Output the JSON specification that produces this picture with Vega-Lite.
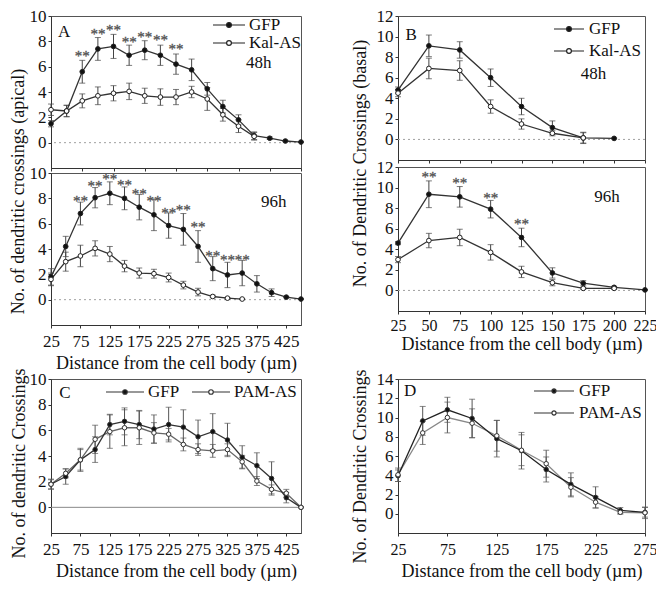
{
  "$schema": "https://vega.github.io/schema/vega-lite/v6.json",
  "padding": {"left": 8, "top": 6, "right": 0, "bottom": 0},
  "background": "white",
  "config": {
    "font": "Liberation Serif",
    "view": {"stroke": "#555", "strokeWidth": 1},
    "axis": {"grid": false, "labelFont": "Liberation Serif", "titleFont": "Liberation Serif", "labelFontSize": 17, "titleFontSize": 18, "titleFontWeight": "normal", "labelColor": "#111", "titleColor": "#111", "domainColor": "#333", "tickColor": "#333", "tickSize": 3, "tickCount": 30, "format": "d", "labelFlush": false, "labelOverlap": false},
    "axisX": {"labelPadding": 4, "titlePadding": 4},
    "axisY": {"labelPadding": 2},
    "legend": {"labelFont": "Liberation Serif", "labelFontSize": 16, "labelColor": "#111"},
    "text": {"font": "Liberation Serif"}
  },
  "datasets": {
    "pts": [
      {"p":"A48","g":"GFP","d":25,"v":1.5,"e":0.25},{"p":"A48","g":"GFP","d":50,"v":2.5,"e":0.45},{"p":"A48","g":"GFP","d":75,"v":5.6,"e":0.9},{"p":"A48","g":"GFP","d":100,"v":7.4,"e":0.9},{"p":"A48","g":"GFP","d":125,"v":7.6,"e":0.95},{"p":"A48","g":"GFP","d":150,"v":6.9,"e":0.8},{"p":"A48","g":"GFP","d":175,"v":7.3,"e":0.75},{"p":"A48","g":"GFP","d":200,"v":6.9,"e":0.8},{"p":"A48","g":"GFP","d":225,"v":6.2,"e":0.8},{"p":"A48","g":"GFP","d":250,"v":5.75,"e":0.85},{"p":"A48","g":"GFP","d":275,"v":4.25,"e":0.5},{"p":"A48","g":"GFP","d":300,"v":2.85,"e":0.5},{"p":"A48","g":"GFP","d":325,"v":1.8,"e":0.4},{"p":"A48","g":"GFP","d":350,"v":0.55,"e":0.3},{"p":"A48","g":"GFP","d":375,"v":0.35,"e":0.1},{"p":"A48","g":"GFP","d":400,"v":0.13,"e":0.05},{"p":"A48","g":"GFP","d":425,"v":0.05,"e":0.03},
      {"p":"A48","g":"Kal-AS","d":25,"v":2.6,"e":0.45},{"p":"A48","g":"Kal-AS","d":50,"v":2.5,"e":0.45},{"p":"A48","g":"Kal-AS","d":75,"v":3.3,"e":0.55},{"p":"A48","g":"Kal-AS","d":100,"v":3.7,"e":0.7},{"p":"A48","g":"Kal-AS","d":125,"v":3.9,"e":0.6},{"p":"A48","g":"Kal-AS","d":150,"v":4.05,"e":0.65},{"p":"A48","g":"Kal-AS","d":175,"v":3.7,"e":0.6},{"p":"A48","g":"Kal-AS","d":200,"v":3.6,"e":0.65},{"p":"A48","g":"Kal-AS","d":225,"v":3.6,"e":0.6},{"p":"A48","g":"Kal-AS","d":250,"v":4.0,"e":0.45},{"p":"A48","g":"Kal-AS","d":275,"v":3.45,"e":0.9},{"p":"A48","g":"Kal-AS","d":300,"v":2.2,"e":0.5},{"p":"A48","g":"Kal-AS","d":325,"v":1.3,"e":0.5},{"p":"A48","g":"Kal-AS","d":350,"v":0.5,"e":0.3},
      {"p":"A96","g":"GFP","d":25,"v":1.8,"e":0.65},{"p":"A96","g":"GFP","d":50,"v":4.2,"e":0.8},{"p":"A96","g":"GFP","d":75,"v":6.8,"e":0.9},{"p":"A96","g":"GFP","d":100,"v":8.05,"e":0.8},{"p":"A96","g":"GFP","d":125,"v":8.4,"e":0.9},{"p":"A96","g":"GFP","d":150,"v":8.0,"e":0.9},{"p":"A96","g":"GFP","d":175,"v":7.3,"e":1.0},{"p":"A96","g":"GFP","d":200,"v":6.7,"e":1.25},{"p":"A96","g":"GFP","d":225,"v":5.85,"e":1.0},{"p":"A96","g":"GFP","d":250,"v":5.55,"e":1.25},{"p":"A96","g":"GFP","d":275,"v":4.2,"e":1.25},{"p":"A96","g":"GFP","d":300,"v":2.45,"e":0.95},{"p":"A96","g":"GFP","d":325,"v":1.95,"e":1.0},{"p":"A96","g":"GFP","d":350,"v":2.1,"e":1.0},{"p":"A96","g":"GFP","d":375,"v":1.25,"e":0.65},{"p":"A96","g":"GFP","d":400,"v":0.55,"e":0.3},{"p":"A96","g":"GFP","d":425,"v":0.2,"e":0.05},{"p":"A96","g":"GFP","d":450,"v":0.05,"e":0.03},
      {"p":"A96","g":"Kal-AS","d":25,"v":1.6,"e":0.5},{"p":"A96","g":"Kal-AS","d":50,"v":3.0,"e":0.75},{"p":"A96","g":"Kal-AS","d":75,"v":3.45,"e":0.85},{"p":"A96","g":"Kal-AS","d":100,"v":4.05,"e":0.6},{"p":"A96","g":"Kal-AS","d":125,"v":3.6,"e":0.6},{"p":"A96","g":"Kal-AS","d":150,"v":2.65,"e":0.45},{"p":"A96","g":"Kal-AS","d":175,"v":2.1,"e":0.4},{"p":"A96","g":"Kal-AS","d":200,"v":2.05,"e":0.35},{"p":"A96","g":"Kal-AS","d":225,"v":1.75,"e":0.35},{"p":"A96","g":"Kal-AS","d":250,"v":1.15,"e":0.3},{"p":"A96","g":"Kal-AS","d":275,"v":0.6,"e":0.3},{"p":"A96","g":"Kal-AS","d":300,"v":0.25,"e":0.1},{"p":"A96","g":"Kal-AS","d":325,"v":0.12,"e":0.05},{"p":"A96","g":"Kal-AS","d":350,"v":0.05,"e":0.03},
      {"p":"B48","g":"GFP","d":25,"v":4.8,"e":0.3},{"p":"B48","g":"GFP","d":50,"v":9.1,"e":1.05},{"p":"B48","g":"GFP","d":75,"v":8.7,"e":0.8},{"p":"B48","g":"GFP","d":100,"v":6.0,"e":0.85},{"p":"B48","g":"GFP","d":125,"v":3.2,"e":0.8},{"p":"B48","g":"GFP","d":150,"v":1.15,"e":0.65},{"p":"B48","g":"GFP","d":175,"v":0.15,"e":0.55},{"p":"B48","g":"GFP","d":200,"v":0.1,"e":0.05},
      {"p":"B48","g":"Kal-AS","d":25,"v":4.5,"e":0.35},{"p":"B48","g":"Kal-AS","d":50,"v":6.9,"e":1.0},{"p":"B48","g":"Kal-AS","d":75,"v":6.7,"e":0.95},{"p":"B48","g":"Kal-AS","d":100,"v":3.2,"e":0.65},{"p":"B48","g":"Kal-AS","d":125,"v":1.5,"e":0.5},{"p":"B48","g":"Kal-AS","d":150,"v":0.6,"e":0.25},{"p":"B48","g":"Kal-AS","d":175,"v":0.15,"e":0.5},
      {"p":"B96","g":"GFP","d":25,"v":4.6,"e":0.15},{"p":"B96","g":"GFP","d":50,"v":9.35,"e":1.3},{"p":"B96","g":"GFP","d":75,"v":9.1,"e":1.0},{"p":"B96","g":"GFP","d":100,"v":7.9,"e":0.85},{"p":"B96","g":"GFP","d":125,"v":5.15,"e":0.9},{"p":"B96","g":"GFP","d":150,"v":1.7,"e":0.5},{"p":"B96","g":"GFP","d":175,"v":0.7,"e":0.25},{"p":"B96","g":"GFP","d":200,"v":0.3,"e":0.1},{"p":"B96","g":"GFP","d":225,"v":0.05,"e":0.03},
      {"p":"B96","g":"Kal-AS","d":25,"v":3.0,"e":0.3},{"p":"B96","g":"Kal-AS","d":50,"v":4.85,"e":0.7},{"p":"B96","g":"Kal-AS","d":75,"v":5.15,"e":0.8},{"p":"B96","g":"Kal-AS","d":100,"v":3.7,"e":0.75},{"p":"B96","g":"Kal-AS","d":125,"v":1.8,"e":0.55},{"p":"B96","g":"Kal-AS","d":150,"v":0.75,"e":0.3},{"p":"B96","g":"Kal-AS","d":175,"v":0.2,"e":0.1},{"p":"B96","g":"Kal-AS","d":200,"v":0.2,"e":0.1},
      {"p":"C","g":"GFP","d":25,"v":1.8,"e":0.4},{"p":"C","g":"GFP","d":50,"v":2.4,"e":0.6},{"p":"C","g":"GFP","d":75,"v":3.7,"e":0.9},{"p":"C","g":"GFP","d":100,"v":4.5,"e":1.0},{"p":"C","g":"GFP","d":125,"v":6.45,"e":0.8},{"p":"C","g":"GFP","d":150,"v":6.7,"e":1.05},{"p":"C","g":"GFP","d":175,"v":6.45,"e":1.1},{"p":"C","g":"GFP","d":200,"v":6.1,"e":1.1},{"p":"C","g":"GFP","d":225,"v":6.45,"e":1.35},{"p":"C","g":"GFP","d":250,"v":6.25,"e":1.35},{"p":"C","g":"GFP","d":275,"v":5.5,"e":1.3},{"p":"C","g":"GFP","d":300,"v":5.9,"e":1.4},{"p":"C","g":"GFP","d":325,"v":5.25,"e":1.3},{"p":"C","g":"GFP","d":350,"v":3.9,"e":0.9},{"p":"C","g":"GFP","d":375,"v":3.25,"e":1.0},{"p":"C","g":"GFP","d":400,"v":2.25,"e":1.3},{"p":"C","g":"GFP","d":425,"v":0.75,"e":0.4},{"p":"C","g":"GFP","d":450,"v":0,"e":0},
      {"p":"C","g":"PAM-AS","d":25,"v":1.8,"e":0.35},{"p":"C","g":"PAM-AS","d":50,"v":2.65,"e":0.35},{"p":"C","g":"PAM-AS","d":75,"v":3.7,"e":0.8},{"p":"C","g":"PAM-AS","d":100,"v":5.3,"e":1.1},{"p":"C","g":"PAM-AS","d":125,"v":5.9,"e":1.3},{"p":"C","g":"PAM-AS","d":150,"v":6.2,"e":1.4},{"p":"C","g":"PAM-AS","d":175,"v":6.2,"e":1.3},{"p":"C","g":"PAM-AS","d":200,"v":5.8,"e":0.8},{"p":"C","g":"PAM-AS","d":225,"v":5.7,"e":0.45},{"p":"C","g":"PAM-AS","d":250,"v":4.9,"e":0.5},{"p":"C","g":"PAM-AS","d":275,"v":4.5,"e":0.45},{"p":"C","g":"PAM-AS","d":300,"v":4.4,"e":0.5},{"p":"C","g":"PAM-AS","d":325,"v":4.5,"e":0.45},{"p":"C","g":"PAM-AS","d":350,"v":3.55,"e":0.5},{"p":"C","g":"PAM-AS","d":375,"v":2.05,"e":0.35},{"p":"C","g":"PAM-AS","d":400,"v":1.4,"e":0.35},{"p":"C","g":"PAM-AS","d":425,"v":1.1,"e":0.3},{"p":"C","g":"PAM-AS","d":450,"v":0,"e":0},
      {"p":"D","g":"GFP","d":25,"v":3.95,"e":0.6},{"p":"D","g":"GFP","d":50,"v":9.65,"e":1.5},{"p":"D","g":"GFP","d":75,"v":10.8,"e":1.3},{"p":"D","g":"GFP","d":100,"v":9.9,"e":2.0},{"p":"D","g":"GFP","d":125,"v":7.8,"e":1.9},{"p":"D","g":"GFP","d":150,"v":6.55,"e":1.9},{"p":"D","g":"GFP","d":175,"v":4.6,"e":1.3},{"p":"D","g":"GFP","d":200,"v":3.05,"e":1.2},{"p":"D","g":"GFP","d":225,"v":1.7,"e":1.1},{"p":"D","g":"GFP","d":250,"v":0.35,"e":0.3},{"p":"D","g":"GFP","d":275,"v":0.15,"e":0.5},
      {"p":"D","g":"PAM-AS","d":25,"v":4.05,"e":0.7},{"p":"D","g":"PAM-AS","d":50,"v":8.4,"e":1.2},{"p":"D","g":"PAM-AS","d":75,"v":10.0,"e":1.6},{"p":"D","g":"PAM-AS","d":100,"v":9.4,"e":1.5},{"p":"D","g":"PAM-AS","d":125,"v":8.1,"e":1.6},{"p":"D","g":"PAM-AS","d":150,"v":6.6,"e":1.6},{"p":"D","g":"PAM-AS","d":175,"v":5.2,"e":1.4},{"p":"D","g":"PAM-AS","d":200,"v":2.75,"e":1.0},{"p":"D","g":"PAM-AS","d":225,"v":1.2,"e":0.6},{"p":"D","g":"PAM-AS","d":250,"v":0.15,"e":0.2},{"p":"D","g":"PAM-AS","d":275,"v":0.1,"e":0.6}
    ],
    "stars": [
      {"p":"A48","d":75,"v":7.1},{"p":"A48","d":100,"v":8.8},{"p":"A48","d":125,"v":9.1},{"p":"A48","d":150,"v":8.2},{"p":"A48","d":175,"v":8.6},{"p":"A48","d":200,"v":8.35},{"p":"A48","d":225,"v":7.6},
      {"p":"A96","d":75,"v":8.05},{"p":"A96","d":100,"v":9.2},{"p":"A96","d":125,"v":9.75},{"p":"A96","d":150,"v":9.3},{"p":"A96","d":175,"v":8.6},{"p":"A96","d":200,"v":8.0},{"p":"A96","d":225,"v":7.1},{"p":"A96","d":250,"v":7.3},{"p":"A96","d":275,"v":5.95},{"p":"A96","d":300,"v":3.65},{"p":"A96","d":325,"v":3.35},{"p":"A96","d":350,"v":3.4},
      {"p":"B96","d":50,"v":11.35},{"p":"B96","d":75,"v":10.7},{"p":"B96","d":100,"v":9.25},{"p":"B96","d":125,"v":6.75}
    ],
    "labels": [
      {"p":"A48","d":36,"v":8.7,"txt":"A"},{"p":"A48","d":337,"v":6.3,"txt":"48h"},
      {"p":"A96","d":382,"v":7.7,"txt":"96h"},
      {"p":"B48","d":31,"v":10.2,"txt":"B"},{"p":"B48","d":173,"v":6.4,"txt":"48h"},
      {"p":"B96","d":184,"v":9.1,"txt":"96h"},
      {"p":"C","d":39,"v":8.9,"txt":"C"},
      {"p":"D","d":31,"v":12.8,"txt":"D"}
    ]
  },
  "spacing": -8,
  "resolve": {"scale": {"fill": "independent", "color": "independent"}, "legend": {"fill": "independent"}},
  "vconcat": [
    {
      "spacing": 44,
      "resolve": {"scale": {"fill": "independent", "color": "independent"}, "legend": {"fill": "independent"}},
      "hconcat": [
        {
          "spacing": 5,
          "bounds": "flush",
          "resolve": {"scale": {"fill": "independent", "color": "independent"}, "legend": {"fill": "independent"}},
          "vconcat": [
            {
              "width": 250, "height": 152,
              "layer": [
                {"data": {"values": [{}]}, "mark": {"type": "rule", "color": "#a0a0a0", "strokeDash": [2, 3]}, "encoding": {"y": {"datum": 0, "type": "quantitative"}}},
                {"data": {"name": "pts"}, "transform": [{"filter": "datum.p === 'A48'"}],
                 "mark": {"type": "errorbar", "ticks": {"size": 6}, "color": "#444"},
                 "encoding": {
                   "x": {"field": "d", "type": "quantitative", "scale": {"domain": [25, 425], "nice": false, "zero": false}, "axis": {"values": [25, 75, 125, 175, 225, 275, 325, 375, 425], "tickCount": 30, "format": "d", "labels": false, "title": null}},
                   "y": {"field": "v", "type": "quantitative", "scale": {"domain": [-2, 10], "nice": false, "zero": false}, "axis": {"values": [0, 2, 4, 6, 8, 10], "tickCount": 30, "format": "d", "labelOverlap": false, "title": "No. of dendritic crossings (apical)", "titleX": -28, "titleY": 175, "titleAlign": "center", "titleBaseline": "alphabetic", "titleAngle": -90}},
                   "yError": {"field": "e"}
                 }},
                {"data": {"name": "pts"}, "transform": [{"filter": "datum.p === 'A48'"}], "mark": {"type": "line", "strokeWidth": 1.3, "color": "#333"}, "encoding": {"x": {"field": "d", "type": "quantitative"}, "y": {"field": "v", "type": "quantitative"}, "detail": {"field": "g"}}},
                {"data": {"name": "pts"}, "transform": [{"filter": "datum.p === 'A48'"}], "mark": {"type": "point", "size": 22, "stroke": "#222", "strokeWidth": 1, "opacity": 1},
                 "encoding": {"x": {"field": "d", "type": "quantitative"}, "y": {"field": "v", "type": "quantitative"},
                   "fill": {"field": "g", "type": "nominal", "scale": {"domain": ["GFP", "Kal-AS"], "range": ["#111", "#ffffff"]},
                     "legend": {"title": null, "orient": "top-right", "offset": 0, "padding": 0, "symbolType": "M-2,0L-0.3,0M0.3,0L2,0M-0.3,0A0.3,0.3,0,1,0,0.3,0A0.3,0.3,0,1,0,-0.3,0Z", "symbolSize": 256, "symbolStrokeColor": "#222", "symbolStrokeWidth": 1.2, "labelFontSize": 17, "labelOffset": 11, "rowPadding": 1}}}},
                {"data": {"name": "stars"}, "transform": [{"filter": "datum.p === 'A48'"}], "mark": {"type": "text", "text": "**", "fontSize": 15, "color": "#555", "fill": "#555", "stroke": "#555", "strokeWidth": 0.3, "dy": 3}, "encoding": {"x": {"field": "d", "type": "quantitative"}, "y": {"field": "v", "type": "quantitative"}}},
                {"data": {"name": "labels"}, "transform": [{"filter": "datum.p === 'A48'"}], "mark": {"type": "text", "align": "left", "baseline": "middle", "fontSize": 17, "color": "#111", "fill": "#111"}, "encoding": {"x": {"field": "d", "type": "quantitative"}, "y": {"field": "v", "type": "quantitative"}, "text": {"field": "txt"}}}
              ]
            },
            {
              "width": 250, "height": 152,
              "layer": [
                {"data": {"values": [{}]}, "mark": {"type": "rule", "color": "#a0a0a0", "strokeDash": [2, 3]}, "encoding": {"y": {"datum": 0, "type": "quantitative"}}},
                {"data": {"name": "pts"}, "transform": [{"filter": "datum.p === 'A96'"}],
                 "mark": {"type": "errorbar", "ticks": {"size": 6}, "color": "#444"},
                 "encoding": {
                   "x": {"field": "d", "type": "quantitative", "scale": {"domain": [25, 450], "nice": false, "zero": false}, "axis": {"values": [25, 75, 125, 175, 225, 275, 325, 375, 425], "tickCount": 30, "format": "d", "labelOverlap": false, "title": "Distance from the cell body (µm)", "labelPadding": 5, "titlePadding": 5}},
                   "y": {"field": "v", "type": "quantitative", "scale": {"domain": [-2, 10], "nice": false, "zero": false}, "axis": {"values": [0, 2, 4, 6, 8, 10], "tickCount": 30, "format": "d", "labelOverlap": false, "title": null}},
                   "yError": {"field": "e"}
                 }},
                {"data": {"name": "pts"}, "transform": [{"filter": "datum.p === 'A96'"}], "mark": {"type": "line", "strokeWidth": 1.3, "color": "#333"}, "encoding": {"x": {"field": "d", "type": "quantitative"}, "y": {"field": "v", "type": "quantitative"}, "detail": {"field": "g"}}},
                {"data": {"name": "pts"}, "transform": [{"filter": "datum.p === 'A96'"}], "mark": {"type": "point", "size": 22, "stroke": "#222", "strokeWidth": 1, "opacity": 1},
                 "encoding": {"x": {"field": "d", "type": "quantitative"}, "y": {"field": "v", "type": "quantitative"},
                   "fill": {"field": "g", "type": "nominal", "scale": {"domain": ["GFP", "Kal-AS"], "range": ["#111", "#ffffff"]}, "legend": null}}},
                {"data": {"name": "stars"}, "transform": [{"filter": "datum.p === 'A96'"}], "mark": {"type": "text", "text": "**", "fontSize": 15, "color": "#555", "fill": "#555", "stroke": "#555", "strokeWidth": 0.3, "dy": 3}, "encoding": {"x": {"field": "d", "type": "quantitative"}, "y": {"field": "v", "type": "quantitative"}}},
                {"data": {"name": "labels"}, "transform": [{"filter": "datum.p === 'A96'"}], "mark": {"type": "text", "align": "left", "baseline": "middle", "fontSize": 17, "color": "#111", "fill": "#111"}, "encoding": {"x": {"field": "d", "type": "quantitative"}, "y": {"field": "v", "type": "quantitative"}, "text": {"field": "txt"}}}
              ]
            }
          ]
        },
        {
          "spacing": 7,
          "bounds": "flush",
          "resolve": {"scale": {"fill": "independent", "color": "independent"}, "legend": {"fill": "independent"}},
          "vconcat": [
            {
              "width": 247, "height": 144,
              "layer": [
                {"data": {"values": [{}]}, "mark": {"type": "rule", "color": "#a0a0a0", "strokeDash": [2, 3]}, "encoding": {"y": {"datum": 0, "type": "quantitative"}}},
                {"data": {"name": "pts"}, "transform": [{"filter": "datum.p === 'B48'"}],
                 "mark": {"type": "errorbar", "ticks": {"size": 6}, "color": "#444"},
                 "encoding": {
                   "x": {"field": "d", "type": "quantitative", "scale": {"domain": [25, 225], "nice": false, "zero": false}, "axis": {"values": [25, 50, 75, 100, 125, 150, 175, 200, 225], "tickCount": 30, "format": "d", "labels": false, "title": null}},
                   "y": {"field": "v", "type": "quantitative", "scale": {"domain": [-2, 12], "nice": false, "zero": false}, "axis": {"values": [0, 2, 4, 6, 8, 10, 12], "tickCount": 30, "format": "d", "labelOverlap": false, "title": "No. of Dendritic Crossings (basal)", "titleX": -33, "titleY": 147, "titleAlign": "center", "titleBaseline": "alphabetic", "titleAngle": -90}},
                   "yError": {"field": "e"}
                 }},
                {"data": {"name": "pts"}, "transform": [{"filter": "datum.p === 'B48'"}], "mark": {"type": "line", "strokeWidth": 1.3, "color": "#333"}, "encoding": {"x": {"field": "d", "type": "quantitative"}, "y": {"field": "v", "type": "quantitative"}, "detail": {"field": "g"}}},
                {"data": {"name": "pts"}, "transform": [{"filter": "datum.p === 'B48'"}], "mark": {"type": "point", "size": 22, "stroke": "#222", "strokeWidth": 1, "opacity": 1},
                 "encoding": {"x": {"field": "d", "type": "quantitative"}, "y": {"field": "v", "type": "quantitative"},
                   "fill": {"field": "g", "type": "nominal", "scale": {"domain": ["GFP", "Kal-AS"], "range": ["#111", "#ffffff"]},
                     "legend": {"title": null, "orient": "top-right", "offset": 4, "padding": 0, "symbolType": "M-1.875,0L-0.3,0M0.3,0L1.875,0M-0.3,0A0.3,0.3,0,1,0,0.3,0A0.3,0.3,0,1,0,-0.3,0Z", "symbolSize": 256, "symbolStrokeColor": "#222", "symbolStrokeWidth": 1.2, "labelFontSize": 17, "labelOffset": 11, "rowPadding": 5}}}},
                {"data": {"name": "labels"}, "transform": [{"filter": "datum.p === 'B48'"}], "mark": {"type": "text", "align": "left", "baseline": "middle", "fontSize": 17, "color": "#111", "fill": "#111"}, "encoding": {"x": {"field": "d", "type": "quantitative"}, "y": {"field": "v", "type": "quantitative"}, "text": {"field": "txt"}}}
              ]
            },
            {
              "width": 247, "height": 144,
              "layer": [
                {"data": {"values": [{}]}, "mark": {"type": "rule", "color": "#a0a0a0", "strokeDash": [2, 3]}, "encoding": {"y": {"datum": 0, "type": "quantitative"}}},
                {"data": {"name": "pts"}, "transform": [{"filter": "datum.p === 'B96'"}],
                 "mark": {"type": "errorbar", "ticks": {"size": 6}, "color": "#444"},
                 "encoding": {
                   "x": {"field": "d", "type": "quantitative", "scale": {"domain": [25, 225], "nice": false, "zero": false}, "axis": {"values": [25, 50, 75, 100, 125, 150, 175, 200, 225], "tickCount": 30, "format": "d", "labelOverlap": false, "title": "Distance from the cell body (µm)", "labelFontSize": 16, "labelPadding": 3, "titlePadding": 2}},
                   "y": {"field": "v", "type": "quantitative", "scale": {"domain": [-2, 12], "nice": false, "zero": false}, "axis": {"values": [0, 2, 4, 6, 8, 10, 12], "tickCount": 30, "format": "d", "labelOverlap": false, "title": null}},
                   "yError": {"field": "e"}
                 }},
                {"data": {"name": "pts"}, "transform": [{"filter": "datum.p === 'B96'"}], "mark": {"type": "line", "strokeWidth": 1.3, "color": "#333"}, "encoding": {"x": {"field": "d", "type": "quantitative"}, "y": {"field": "v", "type": "quantitative"}, "detail": {"field": "g"}}},
                {"data": {"name": "pts"}, "transform": [{"filter": "datum.p === 'B96'"}], "mark": {"type": "point", "size": 22, "stroke": "#222", "strokeWidth": 1, "opacity": 1},
                 "encoding": {"x": {"field": "d", "type": "quantitative"}, "y": {"field": "v", "type": "quantitative"},
                   "fill": {"field": "g", "type": "nominal", "scale": {"domain": ["GFP", "Kal-AS"], "range": ["#111", "#ffffff"]}, "legend": null}}},
                {"data": {"name": "stars"}, "transform": [{"filter": "datum.p === 'B96'"}], "mark": {"type": "text", "text": "**", "fontSize": 15, "color": "#555", "fill": "#555", "stroke": "#555", "strokeWidth": 0.3, "dy": 3}, "encoding": {"x": {"field": "d", "type": "quantitative"}, "y": {"field": "v", "type": "quantitative"}}},
                {"data": {"name": "labels"}, "transform": [{"filter": "datum.p === 'B96'"}], "mark": {"type": "text", "align": "left", "baseline": "middle", "fontSize": 17, "color": "#111", "fill": "#111"}, "encoding": {"x": {"field": "d", "type": "quantitative"}, "y": {"field": "v", "type": "quantitative"}, "text": {"field": "txt"}}}
              ]
            }
          ]
        }
      ]
    },
    {
      "spacing": 44,
      "resolve": {"scale": {"fill": "independent", "color": "independent"}, "legend": {"fill": "independent"}},
      "hconcat": [
        {
          "width": 250, "height": 154,
          "layer": [
            {"data": {"values": [{}]}, "mark": {"type": "rule", "color": "#888", "strokeWidth": 1}, "encoding": {"y": {"datum": 0, "type": "quantitative"}}},
            {"data": {"name": "pts"}, "transform": [{"filter": "datum.p === 'C'"}],
             "mark": {"type": "errorbar", "ticks": {"size": 6}, "color": "#555"},
             "encoding": {
               "x": {"field": "d", "type": "quantitative", "scale": {"domain": [25, 450], "nice": false, "zero": false}, "axis": {"values": [25, 75, 125, 175, 225, 275, 325, 375, 425], "tickCount": 30, "format": "d", "labelOverlap": false, "title": "Distance from the cell body (µm)", "labelPadding": 5, "titlePadding": 5}},
               "y": {"field": "v", "type": "quantitative", "scale": {"domain": [-2, 10], "nice": false, "zero": false}, "axis": {"values": [0, 2, 4, 6, 8, 10], "tickCount": 30, "format": "d", "labelOverlap": false, "title": "No. of  dendritic Crossings", "titleX": -27, "titleY": 84, "titleAlign": "center", "titleBaseline": "alphabetic", "titleAngle": -90}},
               "yError": {"field": "e"}
             }},
            {"data": {"name": "pts"}, "transform": [{"filter": "datum.p === 'C' && datum.g === 'PAM-AS'"}], "mark": {"type": "line", "strokeWidth": 1.3, "color": "#666"}, "encoding": {"x": {"field": "d", "type": "quantitative"}, "y": {"field": "v", "type": "quantitative"}}},
            {"data": {"name": "pts"}, "transform": [{"filter": "datum.p === 'C' && datum.g === 'GFP'"}], "mark": {"type": "line", "strokeWidth": 1.3, "color": "#333"}, "encoding": {"x": {"field": "d", "type": "quantitative"}, "y": {"field": "v", "type": "quantitative"}}},
            {"data": {"name": "pts"}, "transform": [{"filter": "datum.p === 'C'"}], "mark": {"type": "point", "size": 20, "stroke": "#333", "strokeWidth": 1, "opacity": 1},
             "encoding": {"x": {"field": "d", "type": "quantitative"}, "y": {"field": "v", "type": "quantitative"},
               "fill": {"field": "g", "type": "nominal", "scale": {"domain": ["GFP", "PAM-AS"], "range": ["#111", "#ffffff"]},
                 "legend": {"title": null, "orient": "top-right", "direction": "horizontal", "columns": 2, "gridAlign": "each", "offset": 4, "padding": 0, "columnPadding": 9, "symbolType": "M-2.375,0L-0.28,0M0.28,0L2.375,0M-0.28,0A0.28,0.28,0,1,0,0.28,0A0.28,0.28,0,1,0,-0.28,0Z", "symbolSize": 256, "symbolStrokeColor": "#333", "symbolStrokeWidth": 1.2, "labelFontSize": 17, "labelOffset": 14}}}},
            {"data": {"name": "labels"}, "transform": [{"filter": "datum.p === 'C'"}], "mark": {"type": "text", "align": "left", "baseline": "middle", "fontSize": 17, "color": "#111", "fill": "#111"}, "encoding": {"x": {"field": "d", "type": "quantitative"}, "y": {"field": "v", "type": "quantitative"}, "text": {"field": "txt"}}}
          ]
        },
        {
          "width": 247, "height": 154,
          "layer": [
            {"data": {"name": "pts"}, "transform": [{"filter": "datum.p === 'D'"}],
             "mark": {"type": "errorbar", "ticks": {"size": 6}, "color": "#555"},
             "encoding": {
               "x": {"field": "d", "type": "quantitative", "scale": {"domain": [25, 275], "nice": false, "zero": false}, "axis": {"values": [25, 75, 125, 175, 225, 275], "tickCount": 30, "format": "d", "labelOverlap": false, "title": "Distance from the cell body (µm)", "labelFontSize": 16, "labelPadding": 5, "titlePadding": 5}},
               "y": {"field": "v", "type": "quantitative", "scale": {"domain": [-2, 14], "nice": false, "zero": false}, "axis": {"values": [0, 2, 4, 6, 8, 10, 12, 14], "tickCount": 30, "format": "d", "labelOverlap": false, "title": "No. of Dendritic Crossings", "titleX": -33, "titleY": 87, "titleAlign": "center", "titleBaseline": "alphabetic", "titleAngle": -90}},
               "yError": {"field": "e"}
             }},
            {"data": {"name": "pts"}, "transform": [{"filter": "datum.p === 'D' && datum.g === 'PAM-AS'"}], "mark": {"type": "line", "strokeWidth": 1.3, "color": "#888"}, "encoding": {"x": {"field": "d", "type": "quantitative"}, "y": {"field": "v", "type": "quantitative"}}},
            {"data": {"name": "pts"}, "transform": [{"filter": "datum.p === 'D' && datum.g === 'GFP'"}], "mark": {"type": "line", "strokeWidth": 1.3, "color": "#222"}, "encoding": {"x": {"field": "d", "type": "quantitative"}, "y": {"field": "v", "type": "quantitative"}}},
            {"data": {"name": "pts"}, "transform": [{"filter": "datum.p === 'D'"}], "mark": {"type": "point", "size": 20, "stroke": "#333", "strokeWidth": 1, "opacity": 1},
             "encoding": {"x": {"field": "d", "type": "quantitative"}, "y": {"field": "v", "type": "quantitative"},
               "fill": {"field": "g", "type": "nominal", "scale": {"domain": ["GFP", "PAM-AS"], "range": ["#111", "#ffffff"]},
                 "legend": {"title": null, "orient": "top-right", "offset": 3, "padding": 0, "symbolType": "M-2.5,0L-0.26,0M0.26,0L2.5,0M-0.26,0A0.26,0.26,0,1,0,0.26,0A0.26,0.26,0,1,0,-0.26,0Z", "symbolSize": 256, "symbolStrokeColor": "#333", "symbolStrokeWidth": 1.2, "labelFontSize": 17, "labelOffset": 16, "rowPadding": 5}}}},
            {"data": {"name": "labels"}, "transform": [{"filter": "datum.p === 'D'"}], "mark": {"type": "text", "align": "left", "baseline": "middle", "fontSize": 17, "color": "#111", "fill": "#111"}, "encoding": {"x": {"field": "d", "type": "quantitative"}, "y": {"field": "v", "type": "quantitative"}, "text": {"field": "txt"}}}
          ]
        }
      ]
    }
  ]
}
